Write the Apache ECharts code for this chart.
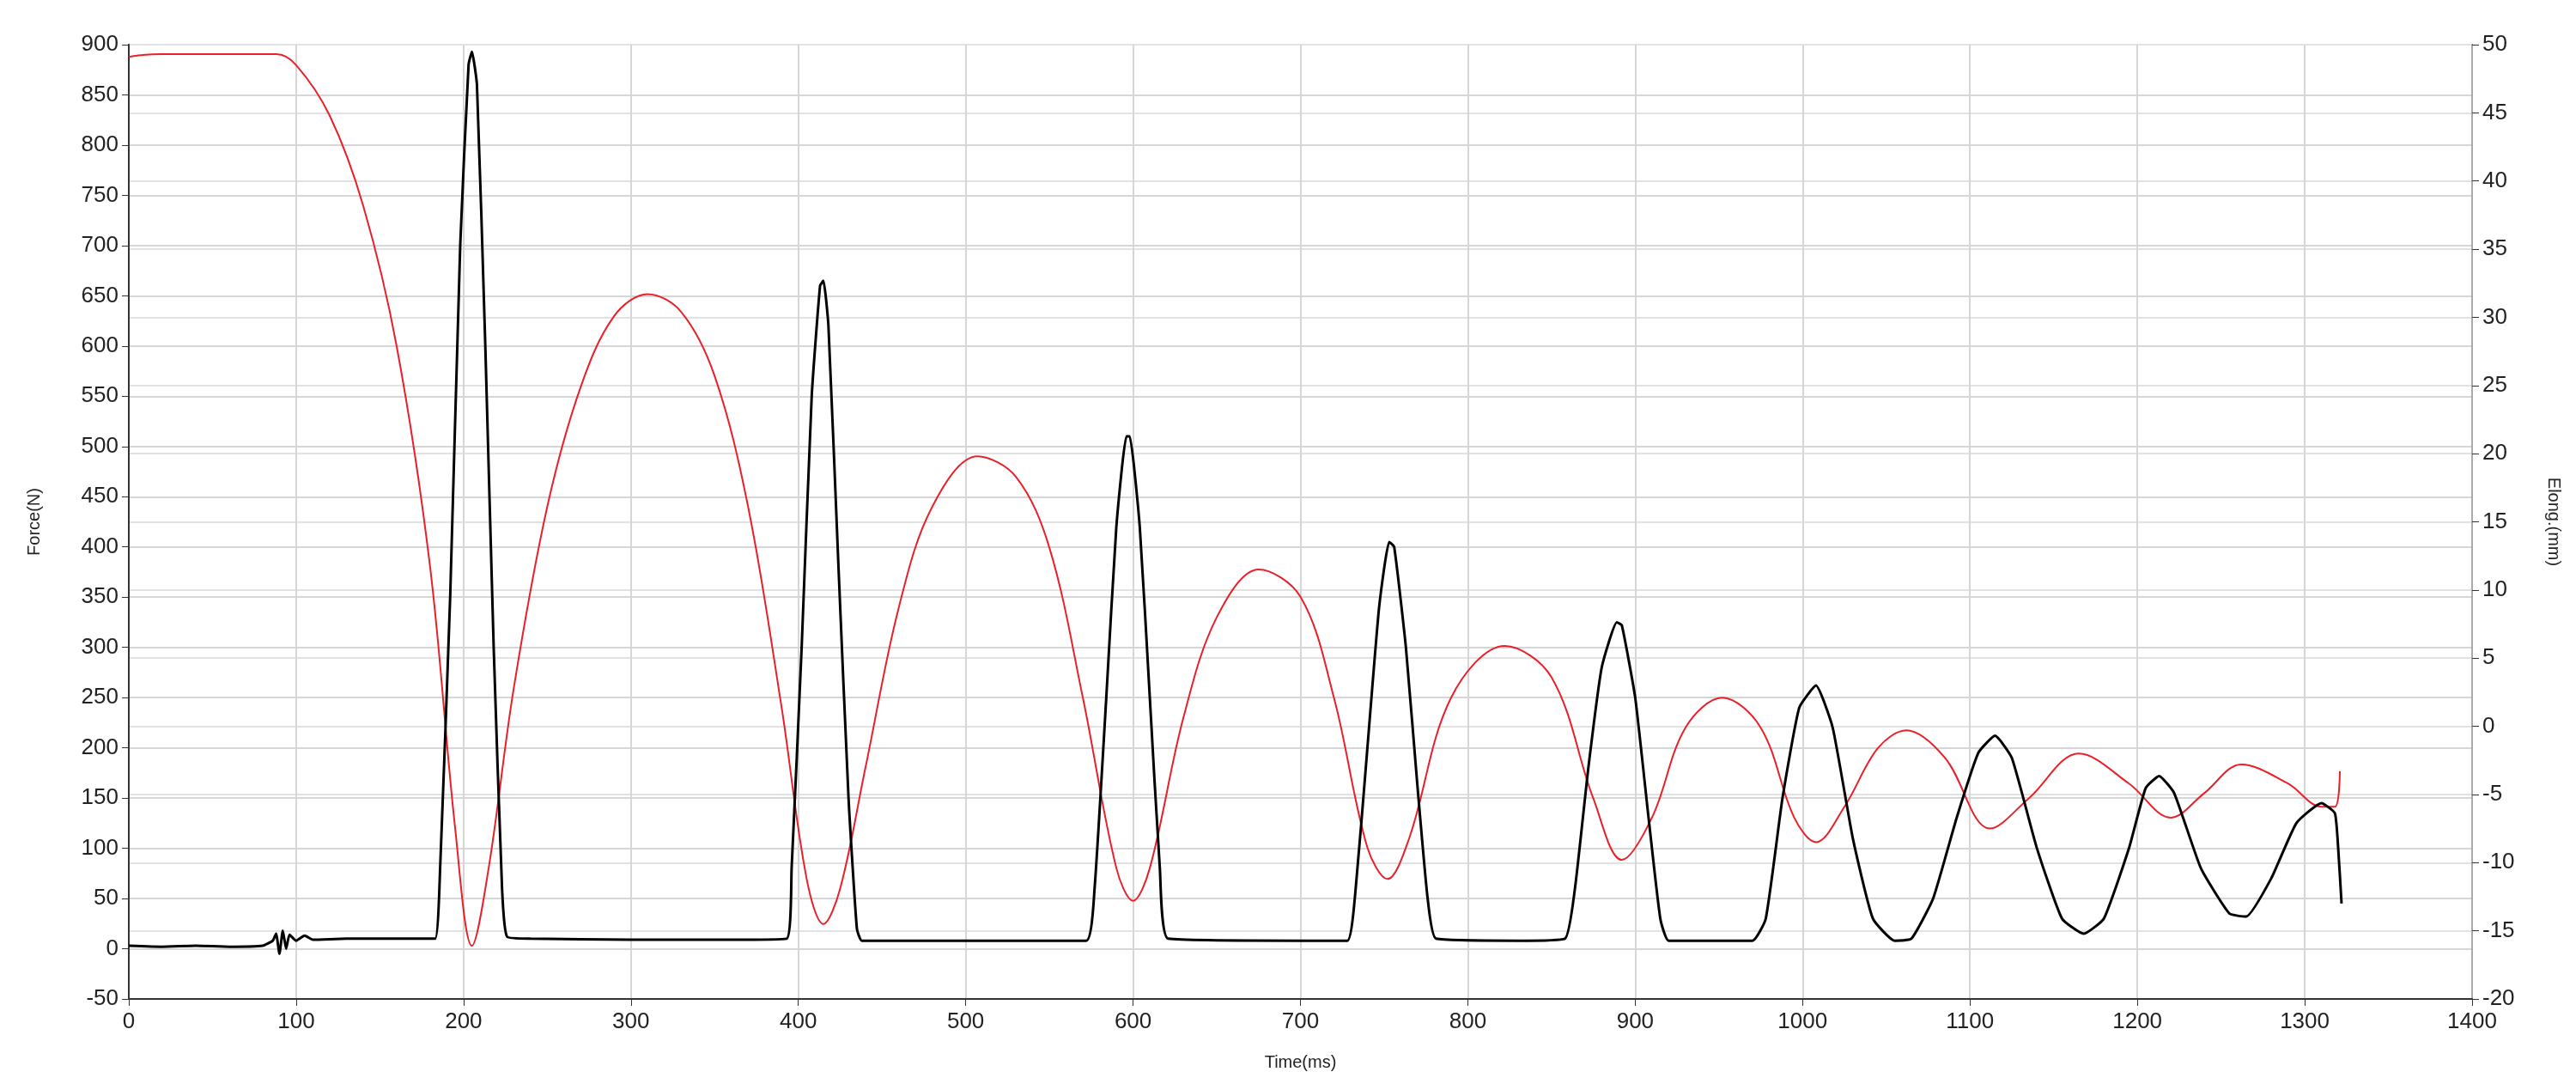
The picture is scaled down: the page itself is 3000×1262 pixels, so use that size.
<!DOCTYPE html>
<html lang="en">
<head>
    <meta charset="UTF-8">
    <title>Force / Elong</title>
    <script src="https://cdn.jsdelivr.net/npm/echarts@6/dist/echarts.min.js"></script>
</head>
<style>
    html,body{margin:0;padding:0;background:#fff;}
    #chart{width:3000px;height:1262px;}
</style>
<body>
<div id="chart"></div>
</body>
<script>
    // 力 Force(N): [时间 ms, 值]
    var forceData = [
        [0,3],[20,2],[40,3],[60,2],[80,3],[86,8],[88,15],[90,-5],[92,18],[94,0],[96,14],[100,8],[105,13],[110,9],
        [130,10],[150,10],[170,10],[183,10],[186,80],[192,350],[198,700],[203,880],[205,893],[208,860],[213,600],
        [218,300],[223,60],[226,12],[240,10],[300,9],[360,9],[393,10],[396,80],[402,300],[408,550],[413,660],
        [415,665],[418,620],[424,380],[430,150],[435,20],[438,8],[500,8],[572,8],[577,60],[584,250],[590,420],
        [596,510],[598,510],[604,420],[610,250],[616,80],[621,10],[700,8],[728,8],[733,60],[740,200],[747,340],
        [753,405],[756,400],[763,300],[770,160],[776,50],[781,10],[830,8],[858,10],[864,60],[872,180],[880,280],
        [889,325],[892,322],[900,250],[908,130],[915,30],[920,8],[970,8],[978,30],[988,150],[998,240],[1008,262],
        [1018,220],[1030,110],[1042,30],[1055,8],[1065,10],[1078,50],[1092,130],[1105,195],[1115,212],[1125,190],
        [1140,100],[1155,30],[1168,15],[1180,30],[1195,100],[1205,160],[1213,172],[1222,155],[1238,80],[1255,35],
        [1265,32],[1280,70],[1295,125],[1310,145],[1318,135],[1320,100],[1322,45]
    ];
    // 伸长 Elong.(mm)
    var elongData = [
        [0,49.1],[5,49.2],[20,49.3],[60,49.3],[88,49.3],[100,48.5],[120,44.8],[140,38.2],[160,27.9],[180,11.7],
        [195,-7.5],[205,-16.1],[215,-10.4],[230,2.8],[250,16.1],[270,24.9],[290,30.1],[310,31.7],[330,30.4],
        [350,25.7],[370,16.1],[390,1.4],[405,-11.2],[415,-14.5],[425,-11.9],[440,-3.1],[460,8.7],[480,16.1],
        [507,19.8],[530,18.3],[550,13.1],[570,2.1],[590,-10.4],[600,-12.8],[610,-10.4],[630,0.6],[650,8.0],
        [675,11.5],[700,9.5],[720,2.1],[740,-8.9],[752,-11.2],[765,-8.2],[790,2.1],[822,5.9],[850,3.6],
        [875,-5.3],[892,-9.8],[910,-6.7],[930,-0.1],[952,2.1],[975,-0.1],[995,-6.7],[1008,-8.5],[1025,-5.9],
        [1045,-1.6],[1062,-0.3],[1085,-2.3],[1112,-7.5],[1135,-5.3],[1165,-2.0],[1195,-4.2],[1220,-6.7],
        [1240,-4.9],[1262,-2.8],[1290,-4.2],[1310,-5.9],[1318,-5.9],[1321,-3.3]
    ];

    var labelFont = {color:'#222', fontSize:26, fontFamily:'Liberation Sans'};
    var myChart = echarts.init(document.getElementById('chart'));
    myChart.setOption({
        animation:false,
        grid:{left:150, right:121, top:52, bottom:99, show:true, borderColor:'#444', borderWidth:2},
        xAxis:{
            type:'value', min:0, max:1400, interval:100,
            name:'Time(ms)', nameLocation:'middle', nameGap:64,
            nameTextStyle:{color:'#222', fontSize:20, fontFamily:'Liberation Sans'},
            axisLine:{onZero:false, lineStyle:{color:'#333', width:2}},
            axisTick:{show:true, length:8, lineStyle:{color:'#333'}},
            axisLabel:Object.assign({margin:14, formatter:function(v){return String(v);}}, labelFont),
            splitLine:{show:true, lineStyle:{color:'#d6d6d6', width:2}}
        },
        yAxis:[{
            type:'value', min:-50, max:900, interval:50,
            name:'Force(N)', nameLocation:'middle', nameGap:100, nameRotate:90,
            nameTextStyle:{color:'#222', fontSize:20, fontFamily:'Liberation Sans'},
            axisLine:{show:true, onZero:false, lineStyle:{color:'#333', width:2}},
            axisTick:{show:true, length:8, lineStyle:{color:'#333'}},
            axisLabel:Object.assign({margin:12}, labelFont),
            splitLine:{show:true, lineStyle:{color:'#d6d6d6', width:2}}
        },{
            type:'value', min:-20, max:50, interval:5, position:'right',
            name:'Elong.(mm)', nameLocation:'middle', nameGap:85, nameRotate:-90,
            nameTextStyle:{color:'#222', fontSize:20, fontFamily:'Liberation Sans'},
            axisLine:{show:true, onZero:false, lineStyle:{color:'#aaa', width:2}},
            axisTick:{show:true, length:8, lineStyle:{color:'#333'}},
            axisLabel:Object.assign({margin:12}, labelFont),
            splitLine:{show:true, lineStyle:{color:'#e2e2e2', width:2}}
        }],
        series:[{
            name:'Elong', type:'line', yAxisIndex:1, data:elongData,
            showSymbol:false, smooth:0.35,
            lineStyle:{color:'#e8202a', width:2}
        },{
            name:'Force', type:'line', yAxisIndex:0, data:forceData,
            showSymbol:false, smooth:0.15,
            lineStyle:{color:'#000', width:3}
        }]
    });
</script>
</html>
